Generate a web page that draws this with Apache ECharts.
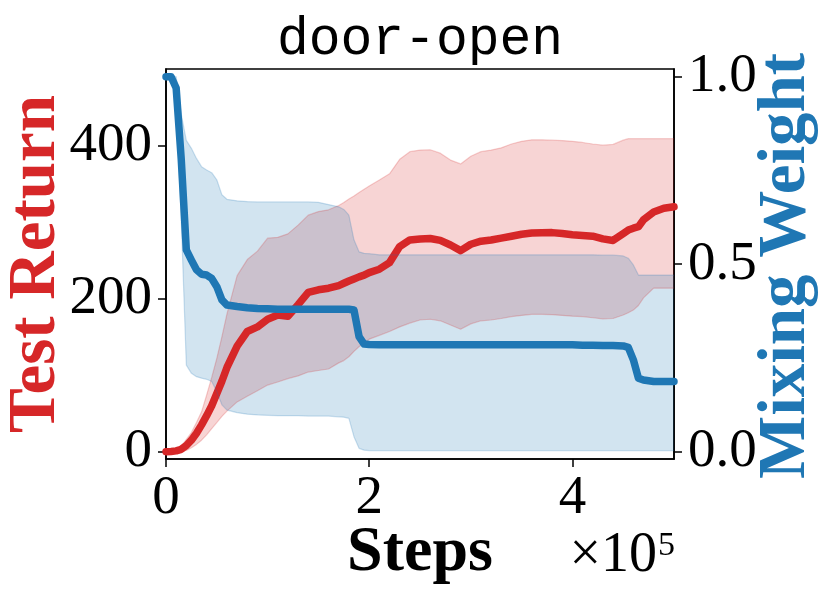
<!DOCTYPE html>
<html>
<head>
<meta charset="utf-8">
<script src="https://cdn.jsdelivr.net/npm/echarts@6/dist/echarts.min.js"></script>
<style>
html,body{margin:0;padding:0;background:#fff;}
#chart{width:830px;height:599px;}
</style>
</head>
<body>
<div id="chart"></div>
<script>
// Steps in units of 1e5
var steps = [0,0.05,0.1,0.15,0.2,0.25,0.3,0.35,0.4,0.45,0.5,0.55,0.6,
  0.7,0.8,0.9,1.0,1.1,1.2,1.3,1.4,1.5,1.6,1.7,
  1.75,1.8,1.85,1.9,1.95,2.0,
  2.1,2.2,2.3,2.4,2.5,2.6,2.7,2.8,2.9,3.0,3.1,3.2,3.3,3.4,3.5,3.6,3.7,3.8,3.9,4.0,4.1,4.2,4.3,4.4,4.5,
  4.55,4.6,4.65,4.7,
  4.8,4.9,5.0];

var returnMean = [0,0.3,1,3,8,15,24,35,47,60,76,92,110,
  138,157,163,173,178.5,177,192,208,211.5,213.6,217,
  220,223,225.7,228.4,230.6,234,
  238.4,247,268,276.7,278,278.5,276,270,262.7,271,275,276.5,279,281.5,284,285.6,286,286.2,285,283.5,282.5,281.5,278,276,285,
  289.5,292,294,303,
  313,318,320];

var returnUpper = [0,0.5,2,7,16,25,38,52,74,97,122,150,180,
  230,251,262,279,280,284.6,296,309,313.7,316,321.6,
  325.5,330,334,338.6,343,347,
  355,363,382,392,394,394.5,390,381,376,386,392,394,397,402,405.5,407.5,407.5,407,406.5,405.5,404,402,400.5,401.5,407,
  409,409,409,409,
  409,409,409];

var returnLower = [0,0,0,0.3,1.5,5,9.5,15,22,30,38,46,53,
  65,72.5,79.5,87,91,95.5,99,104,106,108,116,
  119,124,131,137,142,147,
  152,157,163,168,172,173,171,165.5,160,167,171,172,174,176.5,178,179.5,179.5,179,178,177,176.5,175,173.5,174,178.5,
  181.5,185,191,201,
  213.6,213.6,213.6];

var weightMean = [1.0,1.0,0.97,0.78,0.538,0.511,0.485,0.473,0.471,0.462,0.44,0.405,0.391,
  0.387,0.384,0.382,0.381,0.380,0.380,0.380,0.380,0.380,0.380,0.380,
  0.380,0.380,0.378,0.307,0.287,0.286,
  0.285,0.285,0.285,0.285,0.285,0.285,0.285,0.285,0.285,0.285,0.285,0.285,0.285,0.285,0.285,0.285,0.285,0.285,0.285,0.285,0.284,0.284,0.283,0.283,0.282,
  0.278,0.245,0.196,0.191,
  0.187,0.187,0.187];

var weightUpper = [1.0,1.0,1.0,0.9,0.83,0.809,0.782,0.76,0.751,0.744,0.725,0.685,0.673,
  0.669,0.667,0.666,0.666,0.666,0.666,0.666,0.666,0.665,0.659,0.653,
  0.646,0.631,0.565,0.533,0.529,0.528,
  0.525,0.525,0.525,0.525,0.525,0.525,0.525,0.525,0.525,0.525,0.525,0.525,0.525,0.525,0.525,0.525,0.525,0.525,0.525,0.525,0.525,0.525,0.524,0.524,0.522,
  0.516,0.498,0.471,0.471,
  0.471,0.471,0.471];

var weightLower = [1.0,1.0,0.94,0.62,0.231,0.209,0.2,0.196,0.193,0.187,0.16,0.125,0.111,
  0.104,0.1,0.098,0.097,0.096,0.096,0.096,0.095,0.095,0.095,0.093,
  0.092,0.089,0.04,0.009,0.004,0.003,
  0.003,0.003,0.003,0.003,0.003,0.003,0.003,0.003,0.003,0.003,0.003,0.003,0.003,0.003,0.003,0.003,0.003,0.003,0.003,0.003,0.003,0.003,0.003,0.003,0.003,
  0.003,0.003,0.003,0.003,
  0.003,0.003,0.003];

var xTicks = [0, 2, 4];
var leftTicks = [0, 200, 400];
var rightTicks = [0, 0.5, 1.0];

function pairs(ys) { return steps.map(function (s, i) { return [s, ys[i]]; }); }

var RED = '#d62728', BLUE = '#1f77b4';
var SERIF = '"Liberation Serif", "DejaVu Serif", serif';

function bandSeries(upper, lower, axisIdx, fill) {
  return {
    type: 'custom', yAxisIndex: axisIdx, silent: true,
    data: [[0, 0]],
    renderItem: function (params, api) {
      var pts = [];
      for (var i = 0; i < steps.length; i++) pts.push(api.coord([steps[i], upper[i]]));
      for (var j = steps.length - 1; j >= 0; j--) pts.push(api.coord([steps[j], lower[j]]));
      return {type: 'polygon', shape: {points: pts}, style: {fill: fill, stroke: null}};
    }
  };
}
function edgeSeries(vals, axisIdx, color) {
  return {type: 'line', yAxisIndex: axisIdx, data: pairs(vals), showSymbol: false, symbol: 'none', silent: true,
          lineStyle: {color: color, width: 1.2}};
}

var chart = echarts.init(document.getElementById('chart'), null, {renderer: 'canvas'});

var tickLabel = {fontFamily: SERIF, fontSize: 55, color: '#000'};

chart.setOption({
  animation: false,
  backgroundColor: '#fff',
  grid: {left: 166, right: 156, top: 69, bottom: 140, show: true, borderColor: '#000', borderWidth: 1.6, backgroundColor: 'transparent'},
  xAxis: {
    type: 'value', min: 0, max: 5,
    axisLine: {show: true, onZero: false, lineStyle: {color: '#000', width: 1.6}},
    axisTick: {show: true, customValues: xTicks, length: 8, lineStyle: {color: '#000', width: 1.5}},
    axisLabel: Object.assign({customValues: xTicks, margin: 12}, tickLabel),
    splitLine: {show: false}
  },
  yAxis: [{
    type: 'value', min: -9.6, max: 500, position: 'left',
    axisLine: {show: true, onZero: false, lineStyle: {color: '#000', width: 1.6}},
    axisTick: {show: true, customValues: leftTicks, length: 8, lineStyle: {color: '#000', width: 1.5}},
    axisLabel: Object.assign({customValues: leftTicks, margin: 14}, tickLabel),
    splitLine: {show: false}
  }, {
    type: 'value', min: -0.0195, max: 1.0205, position: 'right',
    axisLine: {show: true, onZero: false, lineStyle: {color: '#000', width: 1.6}},
    axisTick: {show: true, customValues: rightTicks, length: 8, lineStyle: {color: '#000', width: 1.5}},
    axisLabel: Object.assign({customValues: rightTicks, margin: 14, formatter: function (v) { return v.toFixed(1); }}, tickLabel),
    splitLine: {show: false}
  }],
  series: [
    bandSeries(returnUpper, returnLower, 0, 'rgba(214,39,40,0.2)'),
    edgeSeries(returnUpper, 0, 'rgba(214,39,40,0.22)'),
    edgeSeries(returnLower, 0, 'rgba(214,39,40,0.22)'),
    {type: 'line', yAxisIndex: 0, data: pairs(returnMean), showSymbol: false, symbol: 'none',
     lineStyle: {color: RED, width: 7.5, cap: 'round', join: 'round'}},
    bandSeries(weightUpper, weightLower, 1, 'rgba(31,119,180,0.2)'),
    edgeSeries(weightUpper, 1, 'rgba(31,119,180,0.22)'),
    edgeSeries(weightLower, 1, 'rgba(31,119,180,0.22)'),
    {type: 'line', yAxisIndex: 1, data: pairs(weightMean), showSymbol: false, symbol: 'none',
     lineStyle: {color: BLUE, width: 7.5, cap: 'round', join: 'round'}}
  ],
  graphic: [
    {type: 'text', x: 420, y: 40, style: {text: 'door-open', font: '53px "Liberation Mono", "DejaVu Sans Mono", monospace', fill: '#000', align: 'center', verticalAlign: 'middle'}},
    {type: 'text', x: 37, y: 264, rotation: Math.PI / 2, style: {text: 'Test Return', font: 'bold 67px ' + SERIF, fill: RED, align: 'center', verticalAlign: 'middle'}},
    {type: 'text', x: 787, y: 266, rotation: Math.PI / 2, style: {text: 'Mixing Weight', font: 'bold 67px ' + SERIF, fill: BLUE, align: 'center', verticalAlign: 'middle'}},
    {type: 'text', x: 420, y: 553, style: {text: 'Steps', font: 'bold 64px ' + SERIF, fill: '#000', align: 'center', verticalAlign: 'middle'}},
    {type: 'text', x: 657, y: 556, style: {text: '×10', font: '56px ' + SERIF, fill: '#000', align: 'right', verticalAlign: 'middle'}},
    {type: 'text', x: 658, y: 546, style: {text: '5', font: '34px ' + SERIF, fill: '#000', align: 'left', verticalAlign: 'middle'}}
  ]
});
</script>
</body>
</html>
